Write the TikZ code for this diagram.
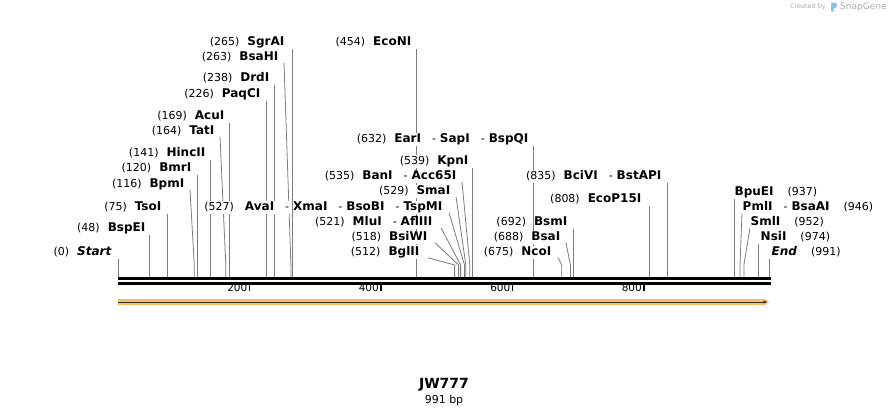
\documentclass[tikz,border=0pt]{standalone}
\usepackage{fontspec}
\setmainfont{DejaVu Sans}
\usepackage{xcolor}
\usepackage{tikz}
\usetikzlibrary{arrows.meta, positioning, backgrounds}
\definecolor{CutGray}{RGB}{125,125,125}
\definecolor{FeatOrange}{RGB}{248,190,95}
\definecolor{MarkGray}{RGB}{175,175,175}
\definecolor{LogoBlue}{RGB}{140,195,235}
\setlength{\fboxsep}{0.5pt}
\newcommand{\vs}{\rule[-2.5pt]{0pt}{12pt}}
\newcommand{\nm}[1]{\colorbox{white}{\vs(#1)}}
\newcommand{\ez}[1]{\colorbox{white}{\vs\fontsize{12}{12}\selectfont\bfseries #1}}
\newcommand{\ed}[1]{\colorbox{white}{\vs\fontsize{12}{12}\selectfont\bfseries\itshape #1}}
\newcommand{\dd}{\hspace{10pt}\colorbox{white}{\vs-}\hspace{3pt}}
\newcommand{\gap}{\hspace{7pt}}
\newcommand{\rgap}{\hspace{13pt}}

\begin{document}
\begin{tikzpicture}[x=1pt, y=-1pt,
    lbl/.style={inner sep=0pt, anchor=east, font=\fontsize{11}{12}\selectfont},
    rlbl/.style={lbl, anchor=west},
    cut/.style={draw=CutGray, line width=0.8pt},
    seq/.style={line width=2.2pt, black},
    tick/.style={line width=1.6pt, black},
    axis/.style={inner sep=0pt, font=\fontsize{10.5}{10.5}\selectfont}
]
\useasboundingbox (0,0) rectangle (890,415);

% cut sites on the sequence
\coordinate (c0) at (118,277);   \coordinate (c48) at (149.6,277); \coordinate (c75) at (167.3,277);
\coordinate (c116) at (194.3,277); \coordinate (c120) at (196.9,277); \coordinate (c141) at (210.7,277);
\coordinate (c164) at (225.8,277); \coordinate (c169) at (229.1,277); \coordinate (c226) at (266.6,277);
\coordinate (c238) at (274.5,277); \coordinate (c263) at (290.9,277); \coordinate (c265) at (292.2,277);
\coordinate (c454) at (416.5,277); \coordinate (c512) at (454.6,277); \coordinate (c518) at (458.6,277);
\coordinate (c521) at (460.6,277); \coordinate (c527) at (464.5,277); \coordinate (c529) at (465.8,277);
\coordinate (c535) at (469.8,277); \coordinate (c539) at (472.4,277); \coordinate (c632) at (533.5,277);
\coordinate (c675) at (561.8,277); \coordinate (c688) at (570.4,277); \coordinate (c692) at (573.0,277);
\coordinate (c808) at (649.3,277); \coordinate (c835) at (667.0,277); \coordinate (c937) at (734.1,277);
\coordinate (c946) at (740.0,277); \coordinate (c952) at (743.9,277); \coordinate (c974) at (758.4,277);
\coordinate (c991) at (769.6,277);

% enzyme labels
\node[lbl] (l0) at (112,252) {\nm{0}\gap\ed{Start}};
\node[lbl] (l48) at (146,228) {\nm{48}\gap\ez{BspEI}};
\node[lbl] (l75) at (162,207) {\nm{75}\gap\ez{TsoI}};
\node[lbl] (l116) at (185,184) {\nm{116}\gap\ez{BpmI}};
\node[lbl] (l120) at (192,168) {\nm{120}\gap\ez{BmrI}};
\node[lbl] (l141) at (206,153) {\nm{141}\gap\ez{HincII}};
\node[lbl] (l164) at (215,131) {\nm{164}\gap\ez{TatI}};
\node[lbl] (l169) at (225,116) {\nm{169}\gap\ez{AcuI}};
\node[lbl] (l226) at (261,94) {\nm{226}\gap\ez{PaqCI}};
\node[lbl] (l238) at (270,78) {\nm{238}\gap\ez{DrdI}};
\node[lbl] (l263) at (279,57) {\nm{263}\gap\ez{BsaHI}};
\node[lbl] (l265) at (285,42) {\nm{265}\gap\ez{SgrAI}};
\node[lbl] (l454) at (412,42) {\nm{454}\gap\ez{EcoNI}};
\node[lbl] (l632) at (529,139) {\nm{632}\gap\ez{EarI}\dd\ez{SapI}\dd\ez{BspQI}};
\node[lbl] (l539) at (469,161) {\nm{539}\gap\ez{KpnI}};
\node[lbl] (l535) at (457,176) {\nm{535}\gap\ez{BanI}\dd\ez{Acc65I}};
\node[lbl] (l529) at (451,191) {\nm{529}\gap\ez{SmaI}};
\node[lbl] (l527) at (443,207) {\nm{527}\hspace{10pt}\ez{AvaI}\dd\ez{XmaI}\dd\ez{BsoBI}\dd\ez{TspMI}};
\node[lbl] (l521) at (433,222) {\nm{521}\gap\ez{MluI}\dd\ez{AflIII}};
\node[lbl] (l518) at (428,237) {\nm{518}\gap\ez{BsiWI}};
\node[lbl] (l512) at (420,252) {\nm{512}\gap\ez{BglII}};
\node[lbl] (l835) at (662,176) {\nm{835}\gap\ez{BciVI}\dd\ez{BstAPI}};
\node[lbl] (l808) at (642,199) {\nm{808}\gap\ez{EcoP15I}};
\node[lbl] (l692) at (568,222) {\nm{692}\gap\ez{BsmI}};
\node[lbl] (l688) at (561,237) {\nm{688}\gap\ez{BsaI}};
\node[lbl] (l675) at (552,252) {\nm{675}\gap\ez{NcoI}};
\node[rlbl] (l937) at (734,192) {\ez{BpuEI}\rgap\nm{937}};
\node[rlbl] (l946) at (742,207) {\ez{PmlI}\dd\ez{BsaAI}\rgap\nm{946}};
\node[rlbl] (l952) at (750,222) {\ez{SmlI}\rgap\nm{952}};
\node[rlbl] (l974) at (760,237) {\ez{NsiI}\rgap\nm{974}};
\node[rlbl] (l991) at (771,252) {\ed{End}\rgap\nm{991}};

% sequence, ruler and feature
\coordinate (sL) at (118,278.5); \coordinate (sR) at (771,278.5);
\draw[seq] (sL) -- (sR);
\draw[seq] ([yshift=-5pt]sL) -- ([yshift=-5pt]sR);
\coordinate (t200) at (249.5,288); \coordinate (t400) at (381,288);
\coordinate (t600) at (512.5,288); \coordinate (t800) at (644,288);
\draw[tick] ([yshift=3pt]t200) -- ([yshift=-3pt]t200);
\draw[tick] ([yshift=3pt]t400) -- ([yshift=-3pt]t400);
\draw[tick] ([yshift=3pt]t600) -- ([yshift=-3pt]t600);
\draw[tick] ([yshift=3pt]t800) -- ([yshift=-3pt]t800);
\node[axis, left=2pt of t200] (n200) {200};
\node[axis, left=2pt of t400] (n400) {400};
\node[axis, left=2pt of t600] (n600) {600};
\node[axis, left=2pt of t800] (n800) {800};
\coordinate (fS) at (118,302); \coordinate (fE) at (769,302);
\fill[FeatOrange] ([yshift=3pt]fS) -- ([xshift=-4pt,yshift=3pt]fE) -- (fE)
    -- ([xshift=-4pt,yshift=-3pt]fE) -- ([yshift=-3pt]fS) -- cycle;
\draw[line width=1pt, black!80, -{Latex[length=4pt,width=3.6pt]}] (fS) -- ([xshift=-1.5pt]fE);

% title
\node[font=\fontsize{14}{14}\selectfont\bfseries, inner sep=1pt] (title) at (444,385) {JW777};
\node[font=\fontsize{11}{11}\selectfont, inner sep=1pt, below=1.5pt of title] (len) {991 bp};

% watermark
\node[font=\fontsize{6.5}{7}\selectfont, text=MarkGray, inner sep=0pt, anchor=east] (credit) at (826,7) {Created by};
\node[font=\fontsize{9}{9}\selectfont, text=MarkGray, inner sep=0pt, anchor=west] (brand) at (840,7) {SnapGene};
\fill[LogoBlue, rounded corners=1pt] (831,2.5) -- (836.5,2.5) -- (836.5,8) -- (833.5,8) -- (833.5,12) -- (831,12) -- cycle;

\begin{scope}[on background layer]
\fill[white] (0,0) rectangle (890,415);
% straight cut lines
\draw[cut] (c0) -- (c0 |- l0.south);       \draw[cut] (c48) -- (c48 |- l48.south);
\draw[cut] (c75) -- (c75 |- l75.south);    \draw[cut] (c120) -- (c120 |- l120.south);
\draw[cut] (c141) -- (c141 |- l141.south); \draw[cut] (c169) -- (c169 |- l169.south);
\draw[cut] (c226) -- (c226 |- l226.south); \draw[cut] (c238) -- (c238 |- l238.south);
\draw[cut] (c265) -- (c265 |- l265.south); \draw[cut] (c454) -- (c454 |- l454.south);
\draw[cut] (c632) -- (c632 |- l632.south); \draw[cut] (c539) -- (c539 |- l539.south);
\draw[cut] (c835) -- (c835 |- l835.south); \draw[cut] (c808) -- (c808 |- l808.south);
\draw[cut] (c692) -- (c692 |- l692.south); \draw[cut] (c937) -- (c937 |- l937.south);
\draw[cut] (c974) -- (c974 |- l974.south); \draw[cut] (c991) -- (c991 |- l991.south);
% bent cut lines
\draw[cut] ([xshift=5pt,yshift=1pt]l116.south east) -- ([yshift=12pt]c116) -- (c116);
\draw[cut] ([xshift=5pt,yshift=1pt]l164.south east) -- ([yshift=12pt]c164) -- (c164);
\draw[cut] ([xshift=5pt,yshift=1pt]l263.south east) -- ([yshift=12pt]c263) -- (c263);
\draw[cut] ([xshift=5pt,yshift=1pt]l535.south east) -- ([yshift=12pt]c535) -- (c535);
\draw[cut] ([xshift=5pt,yshift=1pt]l529.south east) -- ([yshift=12pt]c529) -- (c529);
\draw[cut] ([xshift=6pt,yshift=1pt]l527.south east) -- ([yshift=12pt]c527) -- (c527);
\draw[cut] ([xshift=8pt,yshift=1pt]l521.south east) -- ([yshift=12pt]c521) -- (c521);
\draw[cut] ([xshift=7pt,yshift=1pt]l518.south east) -- ([yshift=12pt]c518) -- (c518);
\draw[cut] ([xshift=8pt,yshift=1pt]l512.south east) -- ([yshift=12pt]c512) -- (c512);
\draw[cut] ([xshift=5pt,yshift=1pt]l688.south east) -- ([yshift=12pt]c688) -- (c688);
\draw[cut] ([xshift=6pt,yshift=1pt]l675.south east) -- ([yshift=12pt]c675) -- (c675);
\draw[cut] ([yshift=1pt]l946.south west) -- ([yshift=12pt]c946) -- (c946);
\draw[cut] ([yshift=1pt]l952.south west) -- ([yshift=12pt]c952) -- (c952);
\end{scope}
\end{tikzpicture}
\end{document}
